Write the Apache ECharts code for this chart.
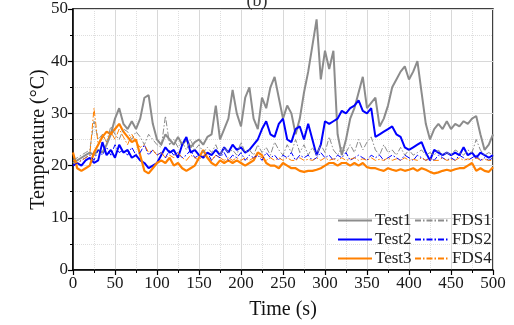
<!DOCTYPE html>
<html>
<head>
<meta charset="utf-8">
<script src="https://cdn.jsdelivr.net/npm/echarts@6/dist/echarts.min.js"></script>
<style>html,body{margin:0;padding:0;background:#fff}#c{width:514px;height:325px}</style>
</head>
<body>
<div id="c"></div>
<script>
// time step 5 s, 0..500
const times = [];
for (let i = 0; i <= 100; i++) times.push(i * 5);

const test1 = [20.5,21,21.5,22,22.5,22,23,22.5,24,26,29,31,28,27,28.5,27,29,33,33.5,28,
25,24,26,25,24,25.5,24,25,23.5,24.5,25,24,25.5,26,31.5,25,27,29,34.5,30,
27.5,33,35,29,27,33,31,35,37,33,29,31.5,30,26,29,34,38,43,48,36.5,
42,38.5,42,26,22,25,29,31,34,37,31,32,33,27.5,29,31.5,35,36.5,38,39,
36.5,38,40,34,28,25,27,28,27,28.5,27,28,27.5,28.5,28,29,29.5,26,23,24,26];

const test2 = [20,20.5,20,21,21.5,20.5,21,24.5,22,23,21.5,24,22.5,23,21.5,22,21,20.5,19.5,20,
20.5,22,23.5,22.5,23,21.5,24,25.5,22.5,23,22,21.5,22.5,22,23,22,23.5,22.5,24,23,
23.5,22.5,23,24,25,27,28.5,26,25.5,28,29,25,24.5,27,27.5,25,28,25,22,24,
28.5,28,28.5,29,30.5,30,31,31.5,32.5,30.5,30,31,25.5,26,26.5,27,27.5,26,25.5,23.5,
23,23.5,24,24.5,22.5,21,23,22.5,22,22.5,22,22.5,22,23.5,22,22.5,21.5,22.5,22,21.5,22];

const test3 = [22.5,19.5,19,19.5,20,22.5,24,25.5,26.5,26,27,28,26.5,25.5,24.5,25,22,19,18.5,19.5,
20.5,21,20.5,21.5,20,20.5,19.5,19,19.5,20,21.5,23,21.5,20.5,20,21,20.5,21,20.5,21,
20.5,20,20.5,21,22.5,22,20.5,20,20,19.5,20.5,20,19.5,19.5,19,18.8,19,19,19.2,19.5,
20,20.5,20.5,20,20.5,20.5,20,20.5,20,20.5,19.7,19.5,19.5,19.2,19,19.5,19.2,19,19.3,19,
19.2,19.5,19,19.5,19.2,18.8,18.5,18.7,19,19.2,19,19.3,19.5,19.5,20,20.5,19,19.5,19,18.8,19.7];

const fds1 = [21,21.5,22,22.5,23,28.5,25,26,24.5,27.5,26,25,27,26.5,25,26.5,25.5,24,26,25,
24,23.5,29.5,24,25,23.5,24.5,23,25,23,24,22.5,23.5,22.5,24,22,23.5,22.5,23,22,
24.5,22.5,23,22,24,22.5,23.5,22,24.5,23,22,24,22.5,25,22.5,24,22,23.5,22,24,
22.5,25.5,23,22,23.5,22.5,24,22.5,25,23,24.5,25.5,23,22,24,22.5,23,22,23.5,22,
23,22,22.5,23,22,22.5,22,23,22,22.5,22,23,22.5,22,23,22.5,25,23,22,22.5,22];

const fds2 = [20,20.5,21,21.5,22,21,23,22,23.5,22,24,22.5,23,22,23.5,22,22.5,24,22,23,
22,22.5,21.5,23,22,22.5,21.5,22,23,21.5,22,21.5,22.5,21,22,21.5,22.5,21,22,21.5,
22.5,21,22,21.5,22,21,22.5,21.5,22,21,22,21.5,22.5,21,22,21.5,22,21,21.5,22.5,
21.5,22,21,22,21.5,22.5,21,21.5,22,21.5,21,22,21.5,22,21,21.5,22,21.5,21,22,
21.5,21,22,21.5,21,21.5,21,22,21.5,21,21.5,21,22,21.5,21,21.5,22,21,21.5,21,21.5];

const fds4 = [21,20.5,21,21.5,22,31,24,26,24.5,26.5,25,27,25.5,24,26,24.5,23.5,24,22.5,23,
22,22.5,21.5,22,21.5,22.5,21.5,21,22,21.5,21,22,21.5,21,22,21.5,21,21.5,21,21.5,
21,21.5,21,21.5,22,21.5,21,21.5,21,21.5,21,21.5,21,21,21.5,21,21.2,21,21.5,21,
21.5,21,21.3,21,21.5,21,21.2,21.5,21,21.3,21,21.5,21,21.2,21,21.5,21,21.3,21,21.5,
21,21.2,21,21.5,21,21.3,21,21,21.5,21,21.2,21,21.5,21,21.3,21,21.5,21,21.2,21,21];

const seriesNames = ['Test1','Test2','Test3','FDS1','FDS2','FDS4'];
const xTicks = [0,50,100,150,200,250,300,350,400,450,500];

const font = 'Liberation Serif';
const cGray = '#8c8c8c', cBlue = '#0000ff', cOrange = '#ff8000';
const dashDot = [6,2,1.5,2];

function mk(name, arr, color, width, dashed) {
  return {
    name: name, type: 'line', symbol: 'none', showSymbol: false, animation: false,
    data: times.map((t, i) => [t, arr[i]]),
    lineStyle: {color: color, width: width, type: dashed ? dashDot : 'solid'},
    itemStyle: {color: color}
  };
}

const legendBase = {
  orient: 'vertical', top: 210, itemWidth: 34, itemHeight: 10, itemGap: 2,
  itemStyle: {opacity: 0},
  textStyle: {fontFamily: font, fontSize: 17, color: '#222', padding: [0,0,0,-2]},
  padding: [2,3,2,3]
};

const chart = echarts.init(document.getElementById('c'), null, {renderer: 'canvas'});
chart.setOption({
  animation: false,
  backgroundColor: '#fff',
  textStyle: {fontFamily: font},
  title: {text: '(b)', left: 'center', top: -13, textStyle: {fontFamily: font, fontSize: 18, fontWeight: 'normal', color: '#333'}},
  grid: {left: 73, right: 21, top: 9, bottom: 55, show: true, borderColor: '#000', borderWidth: 1.5, backgroundColor: 'transparent'},
  xAxis: {
    type: 'value', min: 0, max: 500, interval: 50,
    name: 'Time (s)', nameLocation: 'middle', nameGap: 30, nameMoveOverlap: false,
    nameTextStyle: {fontFamily: font, fontSize: 20, color: '#111'},
    axisLine: {lineStyle: {color: '#000', width: 1.5}},
    axisTick: {show: true, inside: false, length: 5, lineStyle: {color: '#000', width: 1.2}},
    minorTick: {show: true, splitNumber: 2, length: 3, lineStyle: {color: '#000', width: 1}},
    axisLabel: {fontFamily: font, fontSize: 17, color: '#1a1a1a', margin: 5,
      formatter: v => xTicks.indexOf(v) >= 0 ? String(v) : ''},
    splitLine: {show: true, lineStyle: {color: '#d8d8d8', width: 1}},
    minorSplitLine: {show: true, lineStyle: {color: '#dedede', width: 1, type: 'dotted'}}
  },
  yAxis: {
    type: 'value', min: 0, max: 50, interval: 10,
    name: 'Temperature (°C)', nameLocation: 'middle', nameGap: 24, nameMoveOverlap: false,
    nameTextStyle: {fontFamily: font, fontSize: 20, color: '#111'},
    axisLine: {show: true, lineStyle: {color: '#000', width: 1.5}},
    axisTick: {show: true, inside: false, length: 5, lineStyle: {color: '#000', width: 1.2}},
    minorTick: {show: true, splitNumber: 2, length: 3, lineStyle: {color: '#000', width: 1}},
    axisLabel: {fontFamily: font, fontSize: 17, color: '#1a1a1a', margin: 5},
    splitLine: {show: true, lineStyle: {color: '#d8d8d8', width: 1}},
    minorSplitLine: {show: true, lineStyle: {color: '#dedede', width: 1, type: 'dotted'}}
  },
  legend: [
    Object.assign({data: seriesNames.slice(0,3), left: 334}, legendBase),
    Object.assign({data: seriesNames.slice(3), left: 411}, legendBase)
  ],
  series: [
    mk('Test1', test1, cGray, 2, false),
    mk('Test2', test2, cBlue, 2, false),
    mk('Test3', test3, cOrange, 2.2, false),
    mk('FDS1', fds1, cGray, 1, true),
    mk('FDS2', fds2, cBlue, 1, true),
    mk('FDS4', fds4, cOrange, 1, true)
  ]
});
</script>
</body>
</html>
